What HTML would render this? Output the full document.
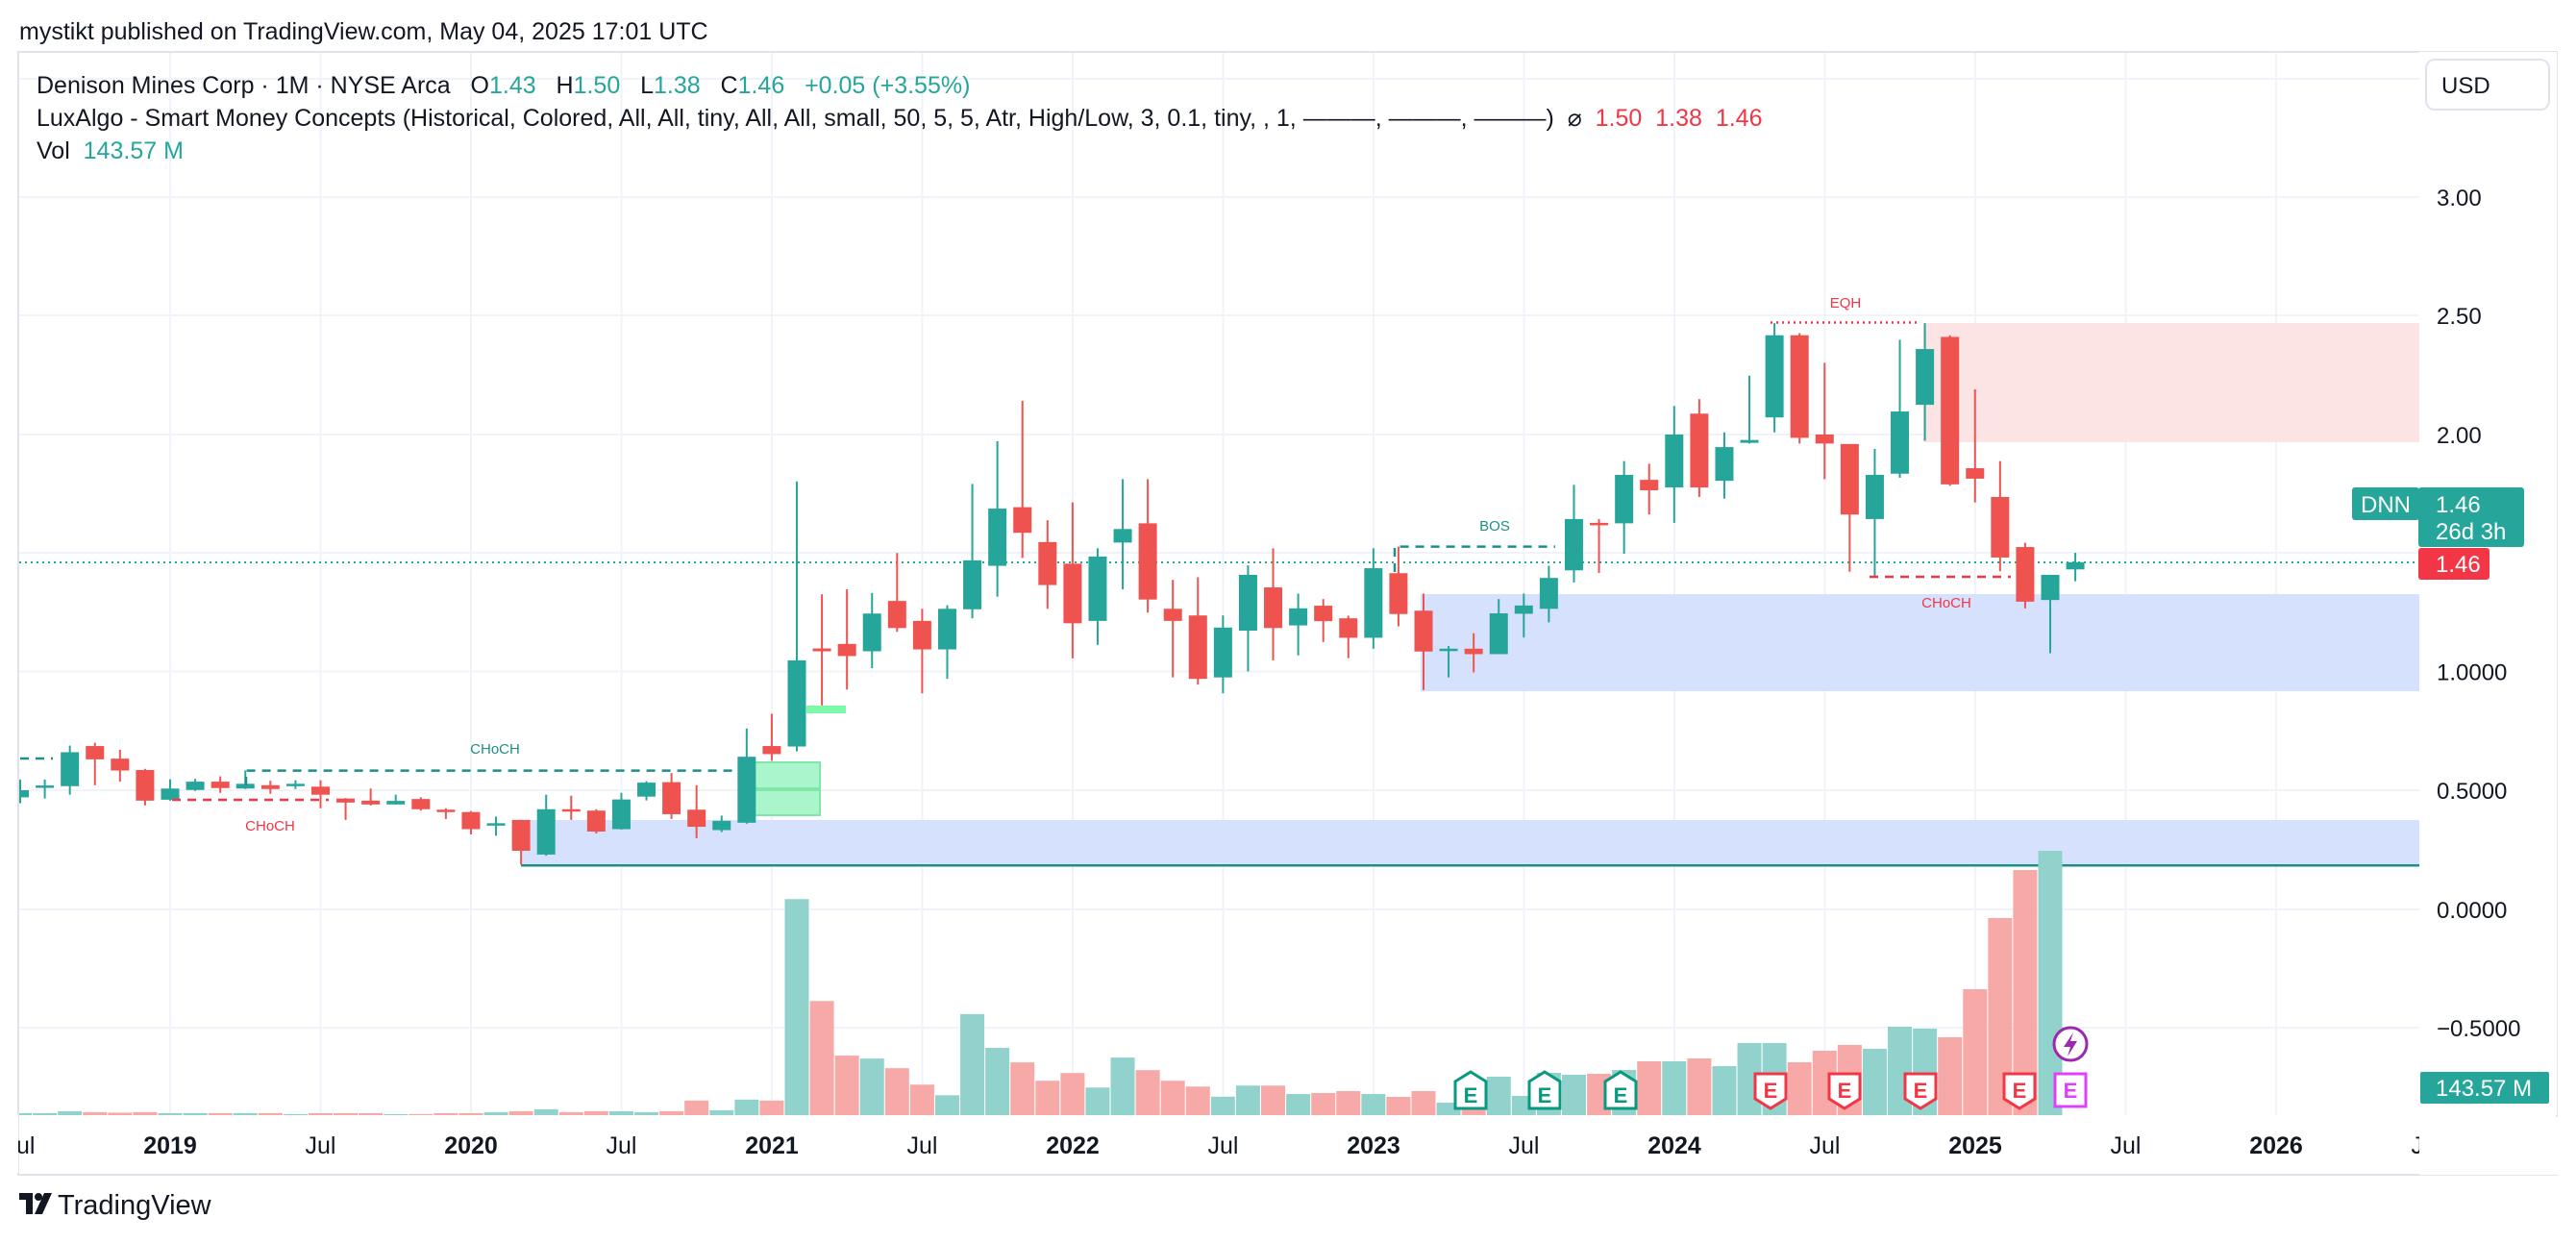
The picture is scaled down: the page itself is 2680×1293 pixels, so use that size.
<!DOCTYPE html>
<html><head><meta charset="utf-8">
<style>
html,body{margin:0;padding:0;background:#fff;}
body{width:2680px;height:1288px;overflow:hidden;font-family:"Liberation Sans",sans-serif;}
svg text{font-family:"Liberation Sans",sans-serif;}
</style></head>
<body>
<svg id="c" width="2680" height="1288" viewBox="0 0 2680 1288" xmlns="http://www.w3.org/2000/svg">
<rect width="2680" height="1288" fill="#fff"/>
<g id="grid" stroke="#f0f3fa" stroke-width="2"></g>
<rect x="1478" y="618" width="1039" height="101" fill="#d6e2fd"/>
<rect x="542" y="853" width="1975" height="47" fill="#d6e2fd"/>
<rect x="542" y="899" width="1975" height="2.5" fill="#1e8f86"/>
<rect x="2001" y="336" width="516" height="124" fill="#fce4e4"/>
<rect x="785" y="793" width="68" height="55" fill="#aaf5cb" stroke="#7ee8a6" stroke-width="2"/>
<rect x="785" y="819" width="68" height="4" fill="#7ee8a6"/>
<rect x="839" y="734" width="41" height="8" fill="#7dfaa9"/>
<g id="vol"></g>
<line x1="20" y1="585" x2="2517" y2="585" stroke="#26a69a" stroke-width="2" stroke-dasharray="2,4"/>
<g id="cdl"></g>
<g fill="none" stroke-width="2.5">
<path d="M21 789 H55" stroke="#1e8f86" stroke-dasharray="9,7"/>
<path d="M256 817 V801.6 H767" stroke="#1e8f86" stroke-dasharray="9,7"/>
<path d="M179 832 H342" stroke="#f23645" stroke-dasharray="9,7"/>
<path d="M1451 595 V568.6 H1618" stroke="#1e8f86" stroke-dasharray="9,7"/>
<path d="M1842 335.5 H1998" stroke="#f23645" stroke-dasharray="2,4"/>
<path d="M1945 600 H2092" stroke="#f23645" stroke-dasharray="9,7"/>
</g>
<g font-size="15">
<text x="515" y="784" fill="#1e8f86" text-anchor="middle">CHoCH</text>
<text x="281" y="864" fill="#f23645" text-anchor="middle">CHoCH</text>
<text x="1555" y="552" fill="#1e8f86" text-anchor="middle">BOS</text>
<text x="1920" y="320" fill="#f23645" text-anchor="middle">EQH</text>
<text x="2025" y="632" fill="#f23645" text-anchor="middle">CHoCH</text>
</g>
<g id="marks"></g>
<rect x="19" y="54" width="2641" height="1168" fill="none" stroke="#e0e3eb" stroke-width="2"/>
<rect x="2517" y="54" width="143" height="1106" fill="#fff"/>
<rect x="2524" y="62" width="128" height="52" rx="9" fill="#fff" stroke="#e0e3eb" stroke-width="2"/>
<text x="2540" y="97" font-size="24" fill="#131722">USD</text>
<g id="pax" font-size="24" fill="#131722"></g>
<rect x="2447" y="507" width="70" height="34" rx="3" fill="#26a69a"/>
<text x="2482" y="533" font-size="24" fill="#fff" text-anchor="middle">DNN</text>
<rect x="2516" y="507" width="110" height="62" rx="3" fill="#26a69a"/>
<text x="2534" y="533" font-size="24" fill="#fff">1.46</text>
<text x="2534" y="561" font-size="24" fill="#fff">26d 3h</text>
<rect x="2516" y="570" width="74" height="33" rx="3" fill="#f23645"/>
<text x="2534" y="595" font-size="24" fill="#fff">1.46</text>
<rect x="2518" y="1115" width="134" height="33" rx="2" fill="#26a69a"/>
<text x="2534" y="1140" font-size="24" fill="#fff">143.57 M</text>
<g id="tax" font-size="25" fill="#131722"></g>
<text x="20" y="41" font-size="25" fill="#131722">mystikt published on TradingView.com, May 04, 2025 17:01 UTC</text>
<g font-size="25" fill="#131722">
<text x="38" y="97" xml:space="preserve">Denison Mines Corp · 1M · NYSE Arca   O<tspan fill="#26a69a">1.43</tspan>   H<tspan fill="#26a69a">1.50</tspan>   L<tspan fill="#26a69a">1.38</tspan>   C<tspan fill="#26a69a">1.46</tspan>   <tspan fill="#26a69a">+0.05 (+3.55%)</tspan></text>
<text x="38" y="131" xml:space="preserve">LuxAlgo - Smart Money Concepts (Historical, Colored, All, All, tiny, All, All, small, 50, 5, 5, Atr, High/Low, 3, 0.1, tiny, , 1, ———, ———, ———)  ⌀  <tspan fill="#f23645">1.50</tspan>  <tspan fill="#f23645">1.38</tspan>  <tspan fill="#f23645">1.46</tspan></text>
<text x="38" y="165" xml:space="preserve">Vol  <tspan fill="#26a69a">143.57 M</tspan></text>
</g>
<g transform="translate(20,1241)" fill="#131722">
<rect x="0" y="0" width="14" height="7"/><rect x="7" y="0" width="7" height="22"/>
<circle cx="20" cy="4" r="4"/><path d="M26 0 H34 L24 22 H16 Z"/>
</g>
<text x="60" y="1263" font-size="29" fill="#131722">TradingView</text>
</svg>
<script>
const NS="http://www.w3.org/2000/svg";
function el(p,t,a){const e=document.createElementNS(NS,t);for(const k in a)e.setAttribute(k,a[k]);p.appendChild(e);return e;}
const Y=p=>328+(2.5-p)*247;
const X=i=>177+26.08*i;
const D=[[.47,.545,.445,.50],[.515,.545,.465,.52],[.517,.688,.481,.66],[.686,.70,.521,.63],[.633,.67,.536,.583],[.585,.59,.436,.456],
[.46,.546,.456,.507],[.501,.548,.497,.536],[.536,.558,.489,.509],[.507,.583,.505,.527],[.521,.54,.485,.505],[.523,.542,.505,.527],
[.515,.542,.424,.481],[.465,.467,.375,.448],[.456,.507,.436,.44],[.44,.481,.44,.455],[.463,.47,.414,.42],[.418,.424,.379,.41],
[.408,.412,.314,.336],[.355,.389,.308,.361],[.375,.375,.186,.245],[.229,.481,.224,.42],[.42,.477,.375,.412],[.414,.42,.318,.326],
[.336,.489,.334,.461],[.473,.538,.457,.532],[.534,.572,.379,.399],[.418,.521,.298,.346],[.332,.393,.324,.371],[.363,.76,.359,.641],
[.686,.822,.624,.652],[.684,1.80,.664,1.047],[1.097,1.325,.857,1.085],[1.116,1.346,.924,1.065],[1.085,1.331,1.014,1.244],[1.297,1.499,1.167,1.183],
[1.213,1.264,.908,1.093],[1.093,1.279,.969,1.264],[1.262,1.79,1.224,1.468],[1.445,1.97,1.315,1.686],[1.692,2.14,1.478,1.584],[1.545,1.637,1.264,1.364],
[1.454,1.712,1.055,1.203],[1.213,1.519,1.112,1.484],[1.543,1.81,1.346,1.60],[1.624,1.81,1.248,1.303],[1.264,1.386,.975,1.213],[1.236,1.397,.945,.969],
[.975,1.236,.908,1.185],[1.172,1.447,1.0,1.407],[1.354,1.519,1.047,1.183],[1.194,1.328,1.068,1.266],[1.277,1.305,1.124,1.212],[1.224,1.235,1.056,1.142],
[1.142,1.519,1.096,1.435],[1.414,1.526,1.19,1.242],[1.256,1.328,.922,1.084],[1.092,1.107,.975,1.096],[1.096,1.161,.996,1.073],[1.073,1.305,1.073,1.245],
[1.243,1.328,1.143,1.278],[1.264,1.445,1.207,1.394],[1.426,1.786,1.375,1.642],[1.626,1.642,1.415,1.617],[1.624,1.886,1.496,1.828],[1.807,1.875,1.661,1.763],
[1.775,2.118,1.626,1.998],[2.086,2.147,1.735,1.775],[1.803,2.007,1.728,1.945],[1.963,2.246,1.96,1.975],[2.07,2.467,2.007,2.416],[2.416,2.425,1.96,1.984],
[1.998,2.30,1.81,1.96],[1.958,1.958,1.42,1.661],[1.642,1.937,1.398,1.828],[1.833,2.397,1.816,2.095],[2.123,2.467,1.972,2.358],[2.409,2.416,1.782,1.788],
[1.856,2.188,1.712,1.812],[1.735,1.886,1.422,1.48],[1.524,1.542,1.266,1.294],[1.301,1.375,1.077,1.407],[1.43,1.50,1.38,1.46]];
const V=[1309,1309,1305,1307,1308,1307,1309,1309,1309,1309,1309,1311,1309,1309,1309,1311,1311,1309,1309,1307,1305,1301,1307,1305,1305,1307,1305,1283,1303,1281,1283,866,1077,1190,1196,1216,1250,1272,1104,1174,1204,1242,1226,1256,1194,1220,1242,1254,1275,1252,1252];
const VT=V.map(v=>500+0.5026*v);
const V2=[1138,1137,1135,1138,1141,1135,1147,1150,1120,1140,1116,1118,1117,1113,1104,1104,1101,1109,1085,1085,1105,1093,1087,1091,1068,1070,1079,1029,955,905,885,1160];
const vt=VT.concat(V2);
const G="#26a69a",R="#ef5350";
const g=document.getElementById('grid');
[82,205,328,452,575,698.5,822,946,1069].forEach(y=>el(g,'line',{x1:20,x2:2517,y1:y,y2:y}));
for(let k=0;k<15;k++){const x=177+156.5*k;el(g,'line',{x1:x,x2:x,y1:55,y2:1160});}
const vg=document.getElementById('vol');
D.forEach((d,j)=>{const i=j-6,x=X(i);const top=vt[j];if(top===undefined||top>=1159)return;
 const up=d[3]>=d[0];let l=x-12.5,w=25;if(l<20){w-=20-l;l=20;}
 el(vg,'rect',{x:l,y:top,width:w,height:1160-top,fill:up?"#92d2cc":"#f7a9a7"});});
const cg=document.getElementById('cdl');
D.forEach((d,j)=>{const i=j-6,x=X(i);const [o,h,l,c]=d;const col=c>=o?G:R;
 const top=Y(Math.max(o,c)),bot=Y(Math.min(o,c));
 let bl=x-9.5,bw=19;if(bl<20){bw-=20-bl;bl=20;}
 el(cg,'rect',{x:Math.max(20,x-1),y:Y(h),width:2,height:Y(l)-Y(h),fill:col});
 el(cg,'rect',{x:bl,y:top,width:bw,height:Math.max(2.5,bot-top),fill:col});});
const mg=document.getElementById('marks');
function badge(x,col,up){const y=1117,w=32,h=36;
 const p=up?`M${x-w/2} ${y+8} L${x} ${y-2} L${x+w/2} ${y+8} V${y+h} H${x-w/2} Z`:`M${x-w/2} ${y} H${x+w/2} V${y+h-10} L${x} ${y+h} L${x-w/2} ${y+h-10} Z`;
 el(mg,'path',{d:p,fill:"#fff",stroke:col,"stroke-width":3});
 const t=el(mg,'text',{x:x,y:y+(up?30:25),"font-size":22,"font-weight":"bold",fill:col,"text-anchor":"middle"});t.textContent="E";}
[1530,1607,1686].forEach(x=>badge(x,"#089981",true));
[1842,1919,1998,2101].forEach(x=>badge(x,"#f23645",false));
el(mg,'rect',{x:2138,y:1117,width:32,height:34,fill:"#fff",stroke:"#e040fb","stroke-width":3});
{const t=el(mg,'text',{x:2154,y:1142,"font-size":22,"font-weight":"bold",fill:"#e040fb","text-anchor":"middle"});t.textContent="E";}
el(mg,'circle',{cx:2154,cy:1086,r:17,fill:"#fff",stroke:"#9c27b0","stroke-width":3});
el(mg,'path',{d:"M2157 1074 L2147 1089 H2154 L2151 1099 L2161 1083 H2154 Z",fill:"#9c27b0"});
const pa=document.getElementById('pax');
[[205,"3.00"],[328,"2.50"],[452,"2.00"],[698.5,"1.0000"],[822,"0.5000"],[946,"0.0000"],[1069,"−0.5000"]].forEach(([y,s])=>{const t=el(pa,'text',{x:2535,y:y+9});t.textContent=s;});
const ta=document.getElementById('tax');
const labs=["Jul","2019","Jul","2020","Jul","2021","Jul","2022","Jul","2023","Jul","2024","Jul","2025","Jul","2026","Jul"];
labs.forEach((s,k)=>{const x=177+156.5*(k-1);const t=el(ta,'text',{x:x,y:1200,"text-anchor":"middle"});if(s.length===4)t.setAttribute('font-weight','bold');t.textContent=s;});
</script>
<div style="position:absolute;left:0;top:1160px;width:19px;height:60px;background:#fff"></div>
<div style="position:absolute;left:2517px;top:1162px;width:163px;height:60px;background:#fff"></div>
</body></html>
